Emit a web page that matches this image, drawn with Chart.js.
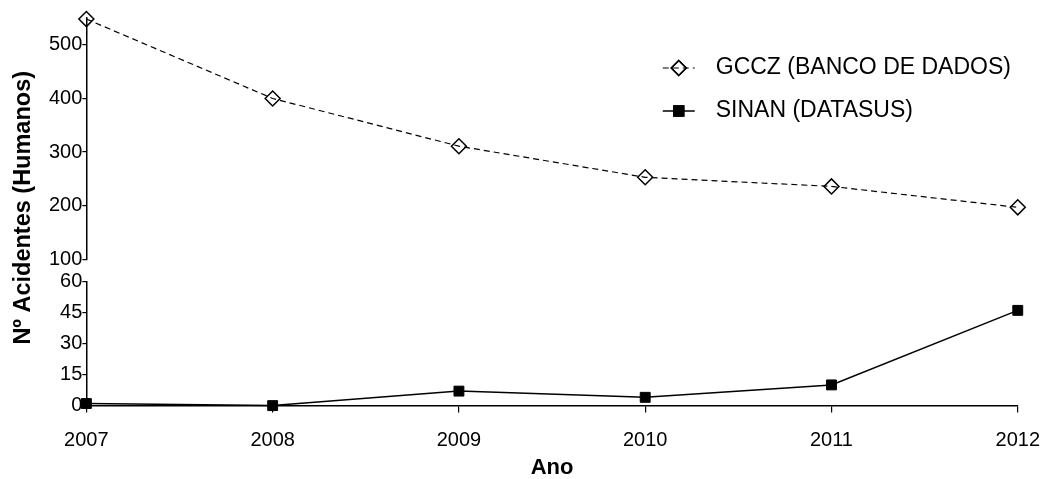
<!DOCTYPE html>
<html>
<head>
<meta charset="utf-8">
<script src="https://cdn.jsdelivr.net/npm/chart.js@4"></script>
<style>
  html, body { margin: 0; padding: 0; background: #fff; }
  #wrap { width: 1049px; height: 479px; }
</style>
</head>
<body>
<div id="wrap"><canvas id="accidentsChart"></canvas></div>
<script>
const years = ['2007', '2008', '2009', '2010', '2011', '2012'];
const gcczValues = [548, 400, 311, 253, 236, 197];
const sinanValues = [1, 0, 7, 4, 10, 46];
const seriesNames = ['GCCZ (BANCO DE DADOS)', 'SINAN (DATASUS)'];
const yTitle = 'Nº Acidentes (Humanos)';
const xTitle = 'Ano';

const FONT = "'Liberation Sans', Arial, sans-serif";
Chart.defaults.font.family = FONT;
Chart.defaults.color = '#000';

// y axis title spans the whole broken axis, so draw it here
const yTitlePlugin = {
    id: 'yTitle',
    afterDraw(chart) {
        const ctx = chart.ctx;
        const area = chart.chartArea;
        ctx.save();
        ctx.translate(24, (area.top + area.bottom) / 2 - 4);
        ctx.rotate(-Math.PI / 2);
        ctx.font = 'bold 23.5px ' + FONT;
        ctx.fillStyle = '#000';
        ctx.textAlign = 'center';
        ctx.textBaseline = 'middle';
        ctx.fillText(yTitle, 0, 0);
        ctx.restore();
    }
};

// legend in the top right corner, inside the plot
const legendPlugin = {
    id: 'cornerLegend',
    afterDraw(chart) {
        const ctx = chart.ctx;
        const area = chart.chartArea;
        chart.data.datasets.forEach((ds, i) => {
            const y = 68 + i * 43;
            const x0 = area.right - 355;
            ctx.save();
            ctx.strokeStyle = ds.borderColor;
            ctx.lineWidth = ds.borderWidth;
            ctx.setLineDash(ds.borderDash || []);
            ctx.beginPath();
            ctx.moveTo(x0, y);
            ctx.lineTo(x0 + 32, y);
            ctx.stroke();
            ctx.setLineDash([]);
            ctx.lineWidth = 1.5;
            Chart.helpers.drawPoint(ctx, {
                pointStyle: ds.pointStyle,
                radius: ds.pointRadius,
                rotation: 0,
                borderWidth: 1.5
            }, x0 + 16, y);
            ctx.fillStyle = ds.pointBackgroundColor;
            if (ds.pointBackgroundColor !== 'rgba(0,0,0,0)') ctx.fill();
            ctx.strokeStyle = '#000';
            ctx.stroke();
            ctx.font = '23px ' + FONT;
            ctx.fillStyle = '#000';
            ctx.textBaseline = 'middle';
            ctx.fillText(ds.label, x0 + 53, y);
            ctx.restore();
        });
    }
};

const axisGrid = { drawOnChartArea: false, color: '#000', tickLength: 4, lineWidth: 1.2 };
const axisBorder = { color: '#000', width: 1.5 };

const ctx = document.getElementById('accidentsChart').getContext('2d');
const chart = new Chart(ctx, {
    type: 'line',
    data: {
        labels: years,
        datasets: [{
            label: seriesNames[0],
            data: gcczValues,
            yAxisID: 'y',
            borderColor: '#000',
            borderWidth: 1.2,
            borderDash: [6, 4],
            pointStyle: 'rectRot',
            pointRadius: 7.5,
            pointBorderWidth: 1.5,
            pointBorderColor: '#000',
            pointBackgroundColor: 'rgba(0,0,0,0)',
            tension: 0,
            clip: false
        }, {
            label: seriesNames[1],
            data: sinanValues,
            yAxisID: 'y2',
            borderColor: '#000',
            borderWidth: 1.5,
            pointStyle: 'rect',
            pointRadius: 7,
            pointBorderWidth: 1,
            pointBorderColor: '#000',
            pointBackgroundColor: '#000',
            tension: 0,
            clip: false
        }]
    },
    options: {
        responsive: true,
        maintainAspectRatio: false,
        animation: false,
        layout: {
            padding: { top: 18, left: 49, right: 21, bottom: -2 }
        },
        plugins: {
            legend: { display: false },
            tooltip: { enabled: false }
        },
        scales: {
            x: {
                type: 'category',
                // long tick length keeps the labels low, the dash keeps the visible mark short
                grid: {
                    drawOnChartArea: false,
                    color: '#000',
                    tickLength: 14,
                    lineWidth: 1.2,
                    tickBorderDash: [6, 40]
                },
                border: axisBorder,
                ticks: { color: '#000', font: { size: 20 }, padding: 9, maxRotation: 0 },
                title: {
                    display: true,
                    text: xTitle,
                    color: '#000',
                    font: { size: 22, weight: 'bold' },
                    padding: { top: -7, bottom: 0 }
                }
            },
            // stacked scales on the left are laid out bottom-up, so the lower segment comes first
            y2: {
                position: 'left',
                stack: 'broken',
                stackWeight: 124,
                min: 0,
                max: 60,
                grid: axisGrid,
                border: axisBorder,
                ticks: { stepSize: 15, autoSkip: false, color: '#000', font: { size: 20 }, padding: 0 }
            },
            gap: {
                position: 'left',
                stack: 'broken',
                stackWeight: 22,
                display: false,
                min: 0,
                max: 1
            },
            y: {
                position: 'left',
                stack: 'broken',
                stackWeight: 241,
                min: 100,
                max: 550,
                grid: axisGrid,
                border: axisBorder,
                ticks: { stepSize: 100, autoSkip: false, includeBounds: false, color: '#000', font: { size: 20 }, padding: 0 }
            }
        }
    },
    plugins: [yTitlePlugin, legendPlugin]
});
</script>
</body>
</html>
